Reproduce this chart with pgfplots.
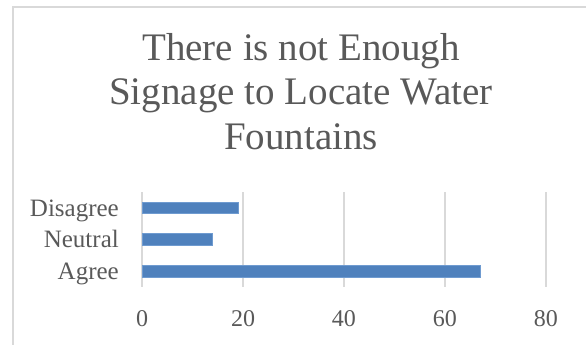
\documentclass[border=0pt]{standalone}
\usepackage{pgfplots}
\pgfplotsset{compat=1.18}
\usepackage{fontspec}
\setmainfont{Liberation Serif}

\definecolor{txt}{HTML}{595959}
\definecolor{gridc}{HTML}{D9D9D9}
\definecolor{barblue}{HTML}{4F81BD}
\definecolor{baredge}{HTML}{6F9BD0}

\begin{document}
\begin{tikzpicture}[x=1pt,y=1pt]
  \useasboundingbox (0,0) rectangle (586,345);
  \clip (0,0) rectangle (586,345);
  % chart frame (continues past the page)
  \draw[gridc, line width=1.5pt] (13,-10) -- (13,338) -- (620,338);

  % title
  \begin{scope}[every node/.style={anchor=base, text=txt, inner sep=0pt,
      font=\fontsize{39}{44}\selectfont}]
    \node at (301,284) {There is not Enough};
    \node at (301,240.5) {Signage to Locate Water};
    \node at (301,195) {Fountains};
  \end{scope}

  \begin{axis}[
    at={(142pt,58pt)}, anchor=south west,
    scale only axis, width=404pt, height=95pt,
    xbar, bar width=11.5pt,
    xmin=0, xmax=80, ymin=-0.5, ymax=2.5,
    xtick={0,20,40,60,80},
    ytick={0,1,2},
    yticklabels={Agree,Neutral,Disagree},
    xmajorgrids, grid style={gridc, line width=1.3pt},
    axis line style={draw=none},
    major tick length=0pt,
    /pgf/number format/assume math mode=true,
    tick label style={text=txt, inner sep=0pt, font=\fontsize{24}{28}\selectfont},
    xticklabel style={anchor=base, yshift=-40pt},
    yticklabel style={anchor=base east, xshift=-23pt, yshift=-8.5pt,
      font=\fontsize{25}{30}\selectfont},
    clip=false,
  ]
    \addplot[fill=barblue, draw=baredge, line width=0.6pt]
      coordinates {(67,0) (14,1) (19,2)};
  \end{axis}
\end{tikzpicture}
\end{document}
